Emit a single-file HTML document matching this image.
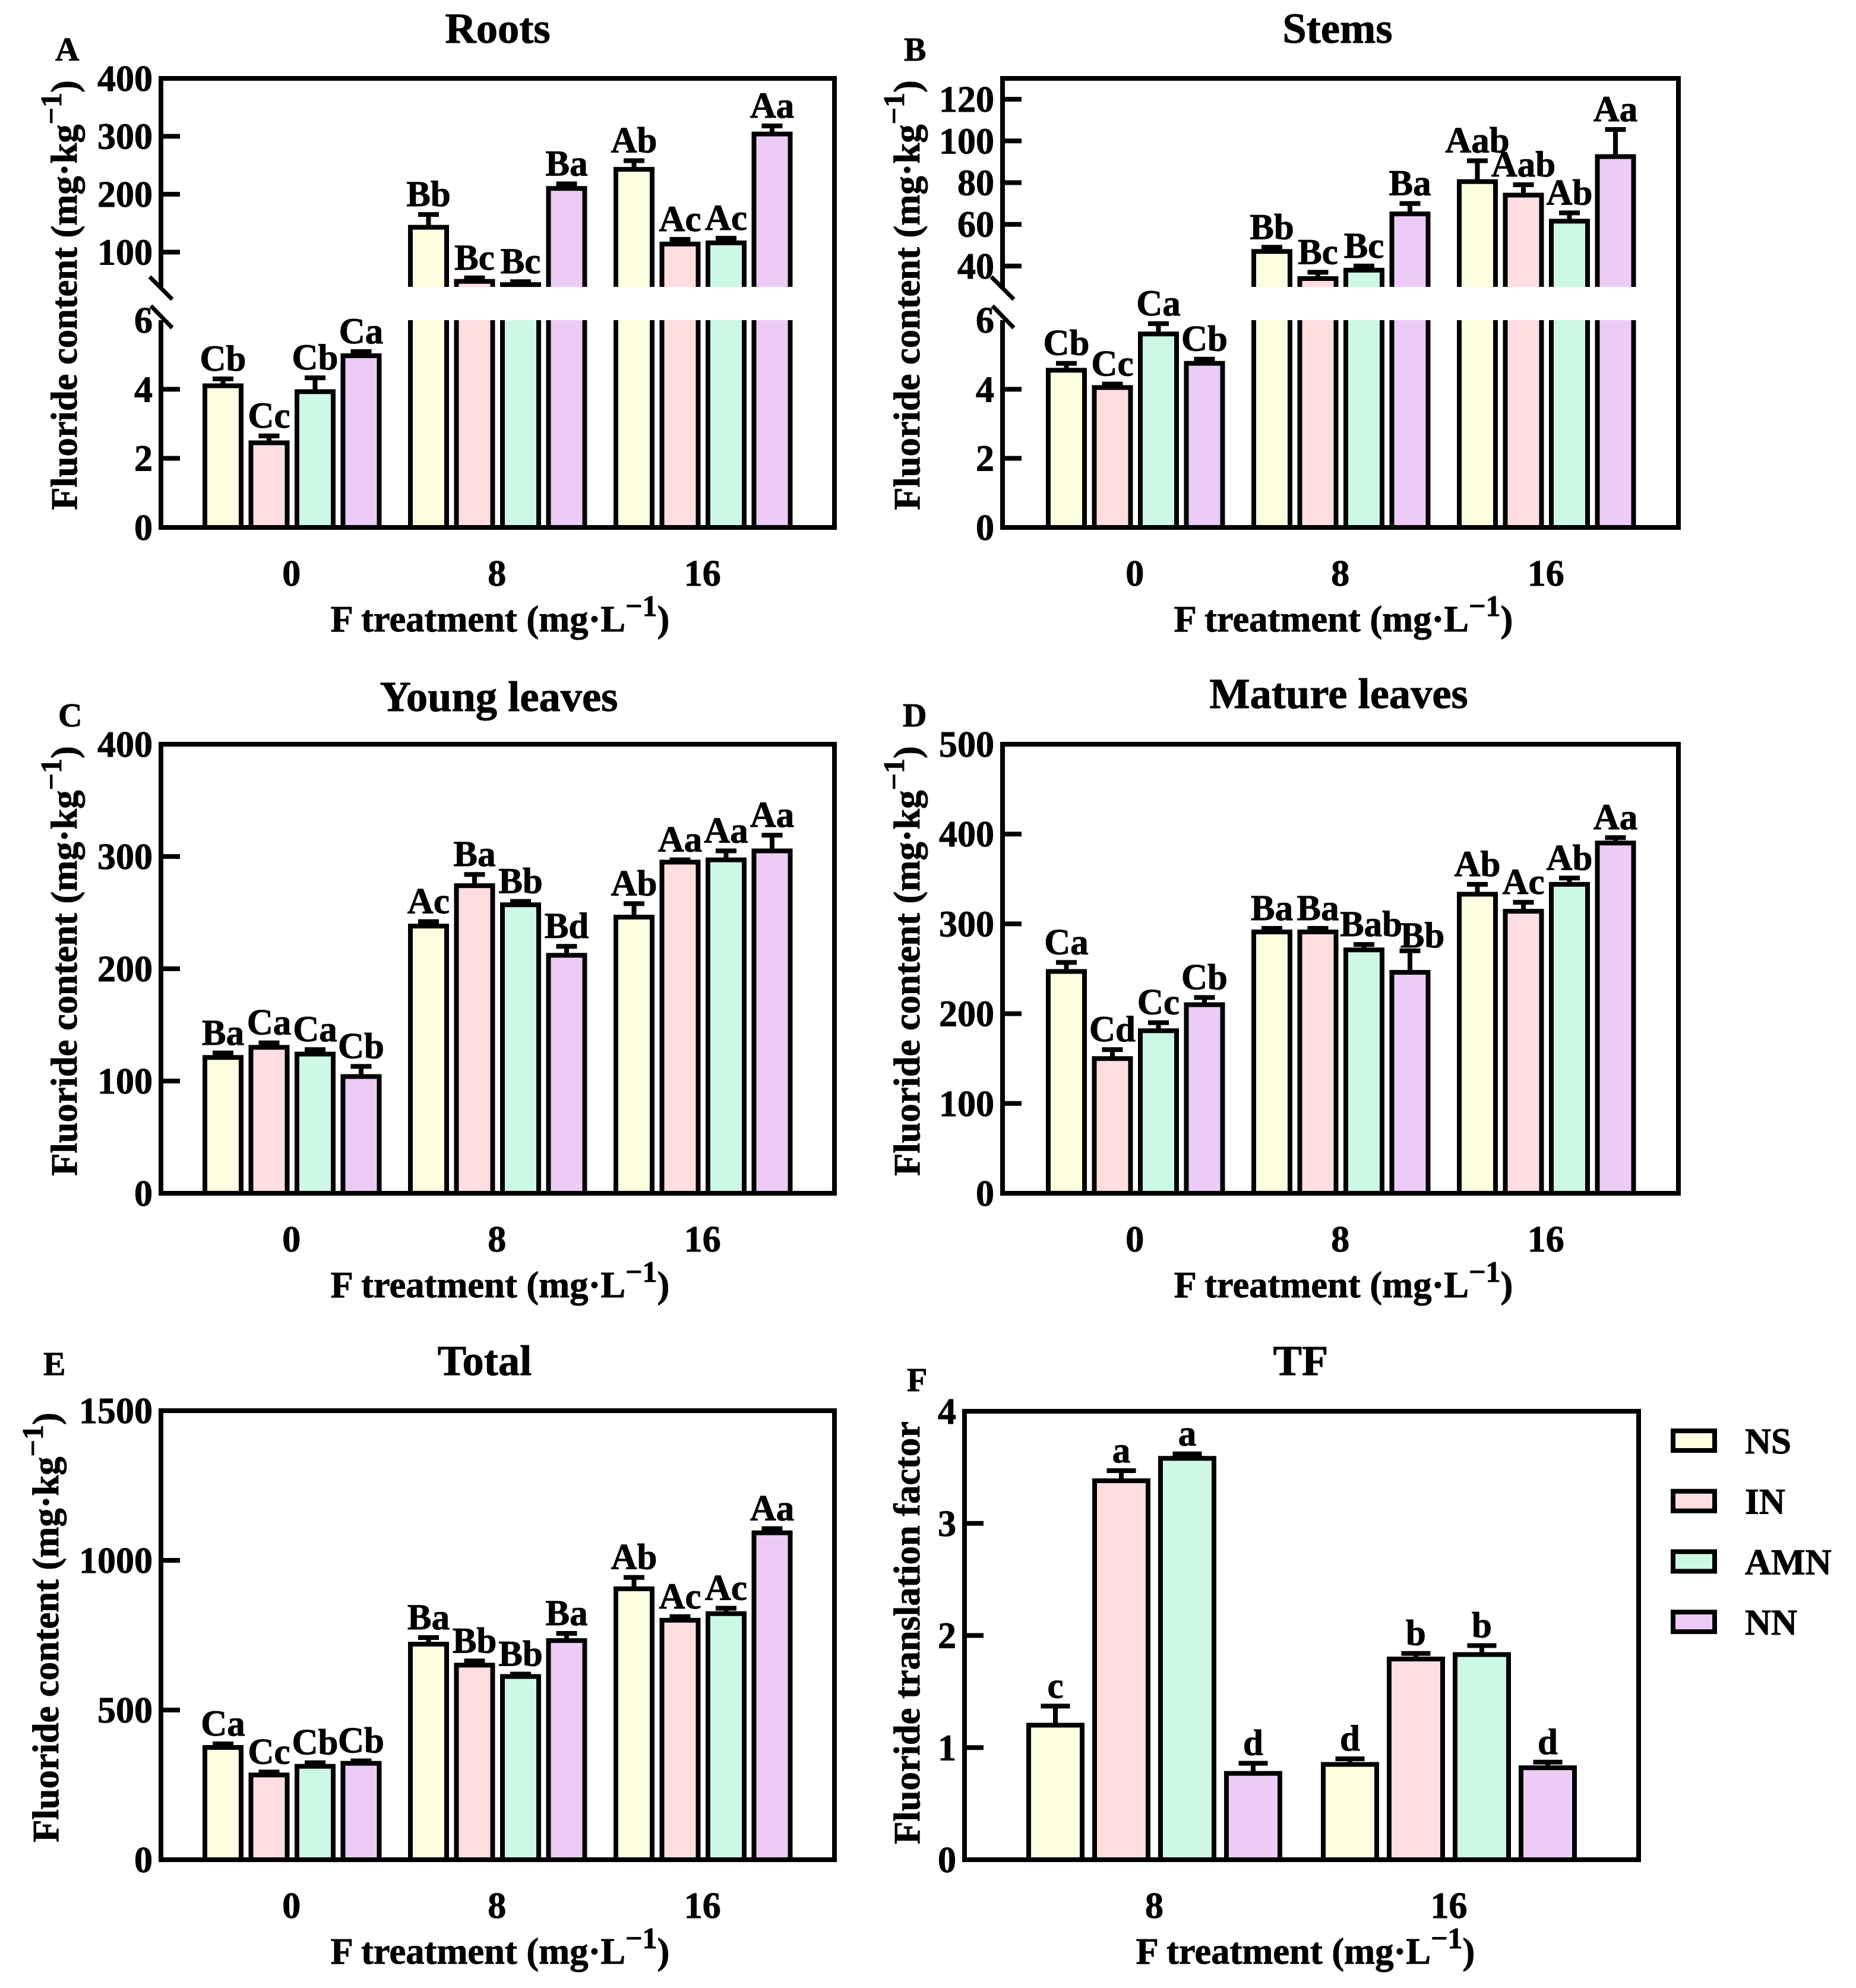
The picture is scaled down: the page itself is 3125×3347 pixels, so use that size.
<!DOCTYPE html>
<html lang="en">
<head>
<meta charset="utf-8">
<title>Fluoride content by F treatment</title>
<style>
html,body{margin:0;padding:0;background:#fff;}
svg{display:block;}
text{font-family:"Liberation Serif",serif;font-weight:bold;fill:#000;stroke:#000;stroke-width:0.9px;}
</style>
</head>
<body>
<svg id="figure" xmlns="http://www.w3.org/2000/svg" width="3125" height="3347" viewBox="0 0 3125 3347"></svg>
<script>
const seriesNames = ['NS', 'IN', 'AMN', 'NN'];
const seriesColors = ['#fdfde0', '#ffdde1', '#cdf8e6', '#edcbf7'];

const sixPanelGroups = ['0', '8', '16'];
const tfGroups = ['8', '16'];

const rootsValues = [4.1, 2.45, 3.93, 4.97, 143, 49.5, 44, 210, 243, 114, 116, 304];
const rootsErrors = [0.2, 0.2, 0.4, 0.12, 22, 6, 5, 8, 15, 8, 8, 14];
const rootsLetters = ['Cb', 'Cc', 'Cb', 'Ca', 'Bb', 'Bc', 'Bc', 'Ba', 'Ab', 'Ac', 'Ac', 'Aa'];
const rootsLowerTicks = [0, 2, 4, 6];
const rootsUpperTicks = [100, 200, 300, 400];

const stemsValues = [4.55, 4.05, 5.6, 4.75, 47, 34, 38, 65, 80.5, 74, 61.5, 92.5];
const stemsErrors = [0.2, 0.1, 0.3, 0.12, 2, 3, 2, 5, 10, 5, 4, 13];
const stemsLetters = ['Cb', 'Cc', 'Ca', 'Cb', 'Bb', 'Bc', 'Bc', 'Ba', 'Aab', 'Aab', 'Ab', 'Aa'];
const stemsLowerTicks = [0, 2, 4, 6];
const stemsUpperTicks = [40, 60, 80, 100, 120];

const youngValues = [121, 130, 124, 104, 238, 274, 257, 212, 246, 295, 297, 305];
const youngErrors = [4, 4, 4, 9, 4, 10, 3, 8, 12, 2, 8, 14];
const youngLetters = ['Ba', 'Ca', 'Ca', 'Cb', 'Ac', 'Ba', 'Bb', 'Bd', 'Ab', 'Aa', 'Aa', 'Aa'];
const youngTicks = [0, 100, 200, 300, 400];

const matureValues = [247, 150, 181, 210, 291, 291, 271, 246, 333, 314, 344, 390];
const matureErrors = [10, 10, 9, 8, 4, 4, 6, 24, 11, 10, 7, 6];
const matureLetters = ['Ca', 'Cd', 'Cc', 'Cb', 'Ba', 'Ba', 'Bab', 'Bb', 'Ab', 'Ac', 'Ab', 'Aa'];
const matureTicks = [0, 100, 200, 300, 400, 500];

const totalValues = [375, 283, 312, 322, 720, 650, 612, 732, 905, 800, 822, 1092];
const totalErrors = [12, 10, 12, 8, 22, 14, 8, 24, 38, 12, 18, 14];
const totalLetters = ['Ca', 'Cc', 'Cb', 'Cb', 'Ba', 'Bb', 'Bb', 'Ba', 'Ab', 'Ac', 'Ac', 'Aa'];
const totalTicks = [0, 500, 1000, 1500];

const tfValues = [1.2, 3.38, 3.58, 0.77, 0.85, 1.79, 1.83, 0.82];
const tfErrors = [0.17, 0.09, 0.04, 0.09, 0.05, 0.05, 0.08, 0.05];
const tfLetters = ['c', 'a', 'a', 'd', 'd', 'b', 'b', 'd'];
const tfTicks = [0, 1, 2, 3, 4];

const svg = document.getElementById('figure');
const NS = 'http://www.w3.org/2000/svg';
const STROKE = 8;

function make(tag, attrs, parent) {
  const node = document.createElementNS(NS, tag);
  for (const k in attrs) node.setAttribute(k, attrs[k]);
  (parent || svg).appendChild(node);
  return node;
}
function linear(d0, d1, p0, p1) {
  return v => p0 + (v - d0) * (p1 - p0) / (d1 - d0);
}
function superText(node, before, sup, after, size) {
  const a = make('tspan', {}, node);
  a.textContent = before;
  const b = make('tspan', {dy: -size * 0.42, 'font-size': size * 0.8}, node);
  b.textContent = sup;
  const c = make('tspan', {dy: size * 0.42, 'font-size': size}, node);
  c.textContent = after;
}

function drawPanel(cfg) {
  const g = make('g', {});
  
  
  const L = cfg.left, R = cfg.right, T = cfg.top, B = cfg.bottom;
  const nudge = cfg.letterNudge || {};

  // scales
  let yPos, breakTop, breakBottom;
  if (cfg.broken) {
    breakBottom = cfg.lowerTop;
    breakTop = cfg.upperBottom;
    const lower = linear(0, cfg.breakLow, B, breakBottom);
    const upper = linear(cfg.breakHigh, cfg.yMax, breakTop, T);
    yPos = v => (v <= cfg.breakLow ? lower(v) : upper(v));
  } else {
    yPos = linear(0, cfg.yMax, B, T);
  }

  // bars
  const n = cfg.values.length;
  const perGroup = seriesNames.length;
  for (let i = 0; i < n; i++) {
    const gi = Math.floor(i / perGroup), si = i % perGroup;
    const x0 = cfg.firstBar + gi * cfg.groupStep + si * cfg.barStep + STROKE / 2;
    const x1 = x0 + cfg.barWidth - STROKE;
    const cx = (x0 + x1) / 2;
    const v = cfg.values[i], e = cfg.errors[i];
    const yTop = yPos(v), yCap = yPos(v + e);
    const capHalf = cfg.capWidth / 2;
    const color = seriesColors[si];
    const barName = cfg.key + '-bar-' + seriesNames[si].toLowerCase() + '-' + cfg.groups[gi];
    if (cfg.broken && v > cfg.breakLow) {
      const lowFill = make('rect', {x: x0, y: breakBottom, width: x1 - x0, height: B - breakBottom, fill: color}, g);
      
      
      const low = make('path', {d: `M${x0} ${B}V${breakBottom}M${x1} ${B}V${breakBottom}`, fill: 'none', stroke: '#000', 'stroke-width': STROKE}, g);
      
      
      const upFill = make('rect', {x: x0, y: yTop, width: x1 - x0, height: Math.max(0, breakTop - yTop), fill: color}, g);
      
      
      const up = make('path', {d: `M${x0} ${breakTop}V${yTop}H${x1}V${breakTop}`, fill: 'none', stroke: '#000', 'stroke-width': STROKE}, g);
      
      
    } else {
      const rect = make('rect', {x: x0, y: yTop, width: x1 - x0, height: B - yTop, fill: color, stroke: '#000', 'stroke-width': STROKE}, g);
      
      
    }
    const err = make('path', {d: `M${cx} ${yTop}V${yCap}M${cx - capHalf} ${yCap}H${cx + capHalf}`, fill: 'none', stroke: '#000', 'stroke-width': STROKE}, g);
    
    
    const shift = nudge[i] || [0, 0];
    const label = make('text', {x: cx + shift[0], y: yCap - 14 + shift[1], 'text-anchor': 'middle', 'font-size': 61}, g);
    label.textContent = cfg.letters[i];
    
    
  }

  // frame
  if (cfg.broken) {
    const fr = make('path', {d: `M${L} ${breakTop + 3}V${T}H${R}V${B}H${L}V${breakBottom}`, fill: 'none', stroke: '#000', 'stroke-width': STROKE}, g);
    
    
    const s1 = make('line', {x1: L - 19, y1: breakTop - 17, x2: L + 19, y2: breakTop + 21, stroke: '#000', 'stroke-width': 7}, g);
    
    
    const s2 = make('line', {x1: L - 17, y1: breakBottom - 24, x2: L + 19, y2: breakBottom + 13, stroke: '#000', 'stroke-width': 7}, g);
    
    
  } else {
    const fr = make('rect', {x: L, y: T, width: R - L, height: B - T, fill: 'none', stroke: '#000', 'stroke-width': STROKE}, g);
    
    
  }

  // y ticks
  cfg.ticks.forEach(t => {
    const y = yPos(t);
    if (!(cfg.broken && t === cfg.breakLow)) {
      const tick = make('line', {x1: L, y1: y, x2: L + 32, y2: y, stroke: '#000', 'stroke-width': 8}, g);
      
      
    }
    const tl = make('text', {x: L - 14, y: y + 21, 'text-anchor': 'end', 'font-size': 62}, g);
    tl.textContent = String(t);
    
    
  });

  // x labels
  cfg.groups.forEach((name, gi) => {
    const c = cfg.firstBar + gi * cfg.groupStep + (cfg.barStep * (perGroup - 1) + cfg.barWidth) / 2 + cfg.labelShift;
    const tl = make('text', {x: c, y: B + 98, 'text-anchor': 'middle', 'font-size': 62}, g);
    tl.textContent = name;
    
    
  });

  // axis titles
  const xt = make('text', {x: cfg.xTitleX, y: B + 175, 'text-anchor': 'middle', 'font-size': 62.5}, g);
  superText(xt, 'F treatment (mg·L', '−1', ')', 62.5);
  
  

  const yt = make('text', {x: 0, y: 0, 'text-anchor': 'middle', 'font-size': 62.5,
    transform: `translate(${cfg.yTitleX} ${cfg.yTitleY}) rotate(-90)`}, g);
  if (cfg.yTitlePlain) {
    yt.textContent = cfg.yTitlePlain;
  } else {
    superText(yt, 'Fluoride content (mg·kg', '−1', ')', 62.5);
  }
  
  

  const title = make('text', {x: cfg.titleX, y: cfg.titleY, 'text-anchor': 'middle', 'font-size': 72.5}, g);
  title.textContent = cfg.title;
  
  

  const pl = make('text', {x: cfg.letterX, y: cfg.letterY, 'font-size': 56}, g);
  pl.textContent = cfg.letter;
  
  
}

const sharedLayout = {firstBar: 341, groupStep: 346, barStep: 77.5, barWidth: 69, capWidth: 35, groups: sixPanelGroups, labelShift: -1};

drawPanel(Object.assign({}, sharedLayout, {
  key: 'roots', title: 'Roots', letter: 'A', left: 271, right: 1405, top: 132, bottom: 888,
  broken: true, breakLow: 6, breakHigh: 40, lowerTop: 539, upperBottom: 483, yMax: 400,
  values: rootsValues, errors: rootsErrors, letters: rootsLetters,
  ticks: rootsLowerTicks.concat(rootsUpperTicks),
  xTitleX: 842, yTitleX: 129, yTitleY: 497, titleX: 838, titleY: 72, letterX: 93, letterY: 102
}));
drawPanel(Object.assign({}, sharedLayout, {
  key: 'stems', title: 'Stems', letter: 'B', left: 1688, right: 2826, top: 132, bottom: 888,
  firstBar: 1761,
  broken: true, breakLow: 6, breakHigh: 30, lowerTop: 539, upperBottom: 483, yMax: 130,
  values: stemsValues, errors: stemsErrors, letters: stemsLetters,
  ticks: stemsLowerTicks.concat(stemsUpperTicks),
  xTitleX: 2262, yTitleX: 1548, yTitleY: 497, titleX: 2252, titleY: 72, letterX: 1522, letterY: 102
}));
drawPanel(Object.assign({}, sharedLayout, {
  key: 'young-leaves', title: 'Young leaves', letter: 'C', left: 271, right: 1405, top: 1253, bottom: 2009,
  yMax: 400,
  values: youngValues, errors: youngErrors, letters: youngLetters, ticks: youngTicks,
  xTitleX: 842, yTitleX: 129, yTitleY: 1618, titleX: 840, titleY: 1197, letterX: 98, letterY: 1223
}));
drawPanel(Object.assign({}, sharedLayout, {
  key: 'mature-leaves', title: 'Mature leaves', letter: 'D', left: 1688, right: 2826, top: 1253, bottom: 2009,
  firstBar: 1761, yMax: 500,
  letterNudge: {6: [12, 0], 7: [21, 8]},
  values: matureValues, errors: matureErrors, letters: matureLetters, ticks: matureTicks,
  xTitleX: 2262, yTitleX: 1548, yTitleY: 1618, titleX: 2254, titleY: 1192, letterX: 1520, letterY: 1223
}));
drawPanel(Object.assign({}, sharedLayout, {
  key: 'total', title: 'Total', letter: 'E', left: 271, right: 1405, top: 2375, bottom: 3131,
  yMax: 1500,
  values: totalValues, errors: totalErrors, letters: totalLetters, ticks: totalTicks,
  xTitleX: 842, yTitleX: 98, yTitleY: 2740, titleX: 816, titleY: 2315, letterX: 73, letterY: 2315
}));
drawPanel(Object.assign({}, sharedLayout, {
  key: 'tf', title: 'TF', letter: 'F', left: 1624, right: 2759, top: 2376, bottom: 3131,
  firstBar: 1728, groupStep: 496, barStep: 111, barWidth: 98, capWidth: 49, groups: tfGroups, labelShift: 0,
  yMax: 4,
  values: tfValues, errors: tfErrors, letters: tfLetters, ticks: tfTicks,
  xTitleX: 2198, yTitleX: 1548, yTitleY: 2749, yTitlePlain: 'Fluoride translation factor', titleX: 2190, titleY: 2315, letterX: 1527, letterY: 2342
}));

// shared legend
const legend = make('g', {});


seriesNames.forEach((name, i) => {
  const y = 2409 + i * 101.7;
  const sw = make('rect', {x: 2817, y: y, width: 70, height: 33, fill: seriesColors[i], stroke: '#000', 'stroke-width': STROKE}, legend);
  
  
  const tx = make('text', {x: 2938, y: y + 38, 'font-size': 61}, legend);
  tx.textContent = name;
  
  
});
</script>
</body>
</html>
